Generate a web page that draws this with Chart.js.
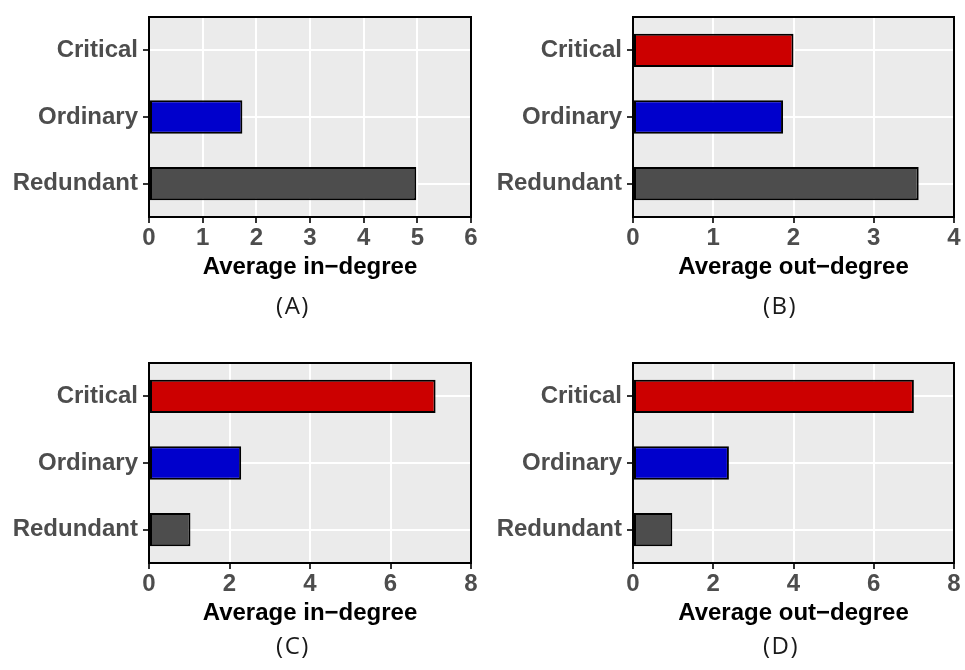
<!DOCTYPE html>
<html>
<head>
<meta charset="utf-8">
<script src="https://cdn.jsdelivr.net/npm/chart.js@4/dist/chart.umd.min.js"></script>
<style>
  body { margin: 0; background: #fff; }
  #wrap { position: relative; width: 965px; height: 670px; overflow: hidden; }
  canvas { position: absolute; }
  .cap {
    position: absolute; font-family: "Open Sans", sans-serif; font-size: 24px;
    letter-spacing: 1.5px; color: #1a1a1a; transform: translate(-50%, -50%); white-space: nowrap;
  }
</style>
</head>
<body>
<div id="wrap">
  <canvas id="cA" width="482" height="290" style="left:0px;top:0px"></canvas>
  <canvas id="cB" width="483" height="290" style="left:482px;top:0px"></canvas>
  <canvas id="cC" width="482" height="290" style="left:0px;top:346px"></canvas>
  <canvas id="cD" width="483" height="290" style="left:482px;top:346px"></canvas>
  <div class="cap" style="left:293px;top:304px">(A)</div>
  <div class="cap" style="left:780px;top:304px">(B)</div>
  <div class="cap" style="left:293px;top:644px">(C)</div>
  <div class="cap" style="left:781px;top:644px">(D)</div>
</div>
<script>
const categories = ["Critical", "Ordinary", "Redundant"];
const inDegreeA = [0, 1.74, 4.98];
const outDegreeB = [2.0, 1.87, 3.56];
const inDegreeC = [7.12, 2.29, 1.03];
const outDegreeD = [7.0, 2.39, 0.98];
const barColors = ["#cc0000", "#0000cc", "#4d4d4d"];

// grey panel background + black frame, ggplot look
const panelPlugin = {
  id: "panel",
  beforeDraw(chart) {
    const { ctx, chartArea: a } = chart;
    ctx.save();
    ctx.fillStyle = "#ebebeb";
    ctx.fillRect(a.left, a.top, a.right - a.left, a.bottom - a.top);
    ctx.restore();
  },
  afterDatasetsDraw(chart) {
    const { ctx, chartArea: a } = chart;
    ctx.save();
    ctx.strokeStyle = "#000";
    ctx.lineWidth = 2;
    ctx.strokeRect(a.left, a.top, a.right - a.left, a.bottom - a.top);
    ctx.restore();
  },
};

function makePanel(id, values, xMax, step, title, yWidth, padTop, padRight) {
  const tickFont = { family: "Liberation Sans", size: 24, weight: "bold", lineHeight: 1 };
  return new Chart(document.getElementById(id), {
    type: "bar",
    data: {
      labels: categories,
      datasets: [
        {
          data: values,
          backgroundColor: barColors,
          borderColor: "#000",
          borderWidth: 2,
          borderSkipped: false,
          barPercentage: 0.5,
          categoryPercentage: 1,
        },
      ],
    },
    options: {
      indexAxis: "y",
      responsive: false,
      animation: false,
      layout: { padding: { top: padTop, right: padRight, left: 0, bottom: 0 } },
      plugins: { legend: { display: false }, tooltip: { enabled: false } },
      scales: {
        x: {
          min: 0,
          max: xMax,
          ticks: { stepSize: step, color: "#4d4d4d", font: tickFont, padding: 3, maxRotation: 0 },
          grid: { color: "#ffffff", lineWidth: 2, tickColor: "#333333", tickWidth: 2, tickLength: 6 },
          border: { display: false },
          title: {
            display: true,
            text: title,
            color: "#000",
            font: { family: "Liberation Sans", size: 24, weight: "bold", lineHeight: 1.2 },
            padding: { top: 0, bottom: 8.6 },
          },
          afterFit(s) { s.height = 73; },
        },
        y: {
          ticks: { color: "#4d4d4d", font: tickFont, padding: 5 },
          grid: { offset: false, color: "#ffffff", lineWidth: 2, tickColor: "#333333", tickWidth: 2, tickLength: 6 },
          border: { display: false },
          afterFit(s) { s.width = yWidth; },
        },
      },
    },
    plugins: [panelPlugin],
  });
}

makePanel("cA", inDegreeA, 6, 1, "Average in\u2212degree", 149, 12, 11);
makePanel("cB", outDegreeB, 4, 1, "Average out\u2212degree", 151, 12, 11);
makePanel("cC", inDegreeC, 8, 2, "Average in\u2212degree", 149, 10, 11);
makePanel("cD", outDegreeD, 8, 2, "Average out\u2212degree", 151, 10, 11);
</script>
</body>
</html>
